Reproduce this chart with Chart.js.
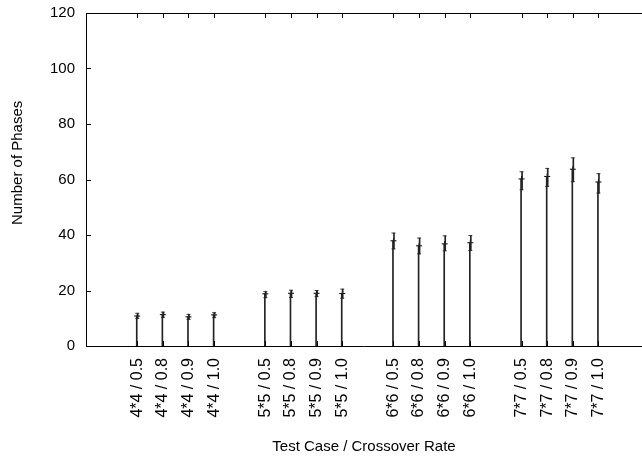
<!DOCTYPE html>
<html>
<head>
<meta charset="utf-8">
<script src="https://cdn.jsdelivr.net/npm/chart.js@4/dist/chart.umd.min.js"></script>
<style>
  html, body { margin: 0; padding: 0; background: #fff; overflow: hidden; }
  canvas { display: block; }
</style>
</head>
<body>
<canvas id="chart" width="642" height="472"></canvas>
<script>
// x positions of each test run (gnuplot style gaps between groups)
const positions = [2, 3, 4, 5, 7, 8, 9, 10, 12, 13, 14, 15, 17, 18, 19, 20];
const labels = [
    '4*4 / 0.5', '4*4 / 0.8', '4*4 / 0.9', '4*4 / 1.0',
    '5*5 / 0.5', '5*5 / 0.8', '5*5 / 0.9', '5*5 / 1.0',
    '6*6 / 0.5', '6*6 / 0.8', '6*6 / 0.9', '6*6 / 1.0',
    '7*7 / 0.5', '7*7 / 0.8', '7*7 / 0.9', '7*7 / 1.0'
];
const meanPhases = [10.8, 11.3, 10.5, 11.2, 18.8, 19.0, 19.0, 18.9, 37.9, 36.1, 36.8, 37.2, 60.2, 61.1, 63.7, 59.1];
const lowPhases  = [9.9, 10.3, 9.6, 10.2, 17.4, 17.5, 17.8, 17.2, 35.0, 33.2, 34.3, 34.4, 56.3, 57.5, 59.2, 55.1];
const highPhases = [11.8, 12.2, 11.4, 12.0, 19.6, 20.1, 20.0, 20.5, 40.7, 38.9, 39.7, 39.8, 62.8, 64.0, 67.8, 62.1];
const yTicks = [0, 20, 40, 60, 80, 100, 120];
const yTitle = 'Number of Phases';
const xTitle = 'Test Case / Crossover Rate';

const FONT = 'Liberation Sans, Arial, Helvetica, sans-serif';

// inward tick marks, top border and the y label, like gnuplot
const frameTicks = {
    id: 'frameTicks',
    afterDraw(chart) {
        const ctx = chart.ctx;
        const area = chart.chartArea;
        const x = chart.scales.x;
        const y = chart.scales.y;
        ctx.save();
        ctx.strokeStyle = '#000';
        ctx.lineWidth = 1;
        ctx.beginPath();
        ctx.moveTo(area.left, area.top + 0.5);
        ctx.lineTo(chart.width, area.top + 0.5);
        positions.forEach(p => {
            const px = Math.round(x.getPixelForValue(p)) + 0.5;
            ctx.moveTo(px, area.bottom);
            ctx.lineTo(px, area.bottom - 5);
            ctx.moveTo(px, area.top);
            ctx.lineTo(px, area.top + 5);
        });
        yTicks.forEach(v => {
            const py = Math.round(y.getPixelForValue(v)) + 0.5;
            ctx.moveTo(area.left, py);
            ctx.lineTo(area.left + 5, py);
        });
        ctx.stroke();

        // y label sits a bit above the middle in the original
        ctx.translate(18, y.getPixelForValue(66));
        ctx.rotate(-Math.PI / 2);
        ctx.fillStyle = '#000';
        ctx.font = '15px ' + FONT;
        ctx.textAlign = 'center';
        ctx.textBaseline = 'middle';
        ctx.fillText(yTitle, 0, 0);
        ctx.restore();
    }
};

const ctx = document.getElementById('chart').getContext('2d');
new Chart(ctx, {
    data: {
        datasets: [
            {
                type: 'bar',
                data: positions.map((p, i) => ({ x: p, y: [0, meanPhases[i]] })),
                backgroundColor: '#222',
                barThickness: 1,
                borderWidth: 0
            },
            {
                type: 'bar',
                data: positions.map((p, i) => ({ x: p, y: [lowPhases[i], highPhases[i]] })),
                backgroundColor: '#222',
                barThickness: 1,
                borderWidth: 0
            },
            {
                type: 'scatter',
                data: positions.flatMap((p, i) => [{ x: p, y: lowPhases[i] }, { x: p, y: highPhases[i] }]),
                pointStyle: 'line',
                pointRadius: 2,
                borderColor: '#444',
                borderWidth: 1
            },
            {
                type: 'scatter',
                data: positions.map((p, i) => ({ x: p, y: meanPhases[i] })),
                pointStyle: 'cross',
                pointRadius: 3,
                borderColor: '#000',
                borderWidth: 1
            }
        ]
    },
    plugins: [frameTicks],
    options: {
        responsive: false,
        animation: false,
        layout: { autoPadding: false, padding: { top: 13, right: 0, left: 0, bottom: 0 } },
        plugins: {
            legend: { display: false },
            tooltip: { enabled: false }
        },
        scales: {
            x: {
                type: 'linear',
                position: 'bottom',
                min: 0,
                max: 21.7,
                offset: false,
                grid: { display: false, drawTicks: false },
                border: { display: true, color: '#000', width: 1 },
                afterBuildTicks: s => { s.ticks = positions.map(v => ({ value: v })); },
                afterFit: s => {
                    s.height = 126;
                    s.paddingLeft = 0;
                    s.paddingRight = 0;
                },
                ticks: {
                    autoSkip: false,
                    minRotation: 90,
                    maxRotation: 90,
                    padding: 12,
                    color: '#000',
                    font: { family: FONT, size: 16 },
                    callback: (v, i) => labels[i]
                },
                title: {
                    display: true,
                    text: xTitle,
                    color: '#000',
                    font: { family: FONT, size: 15 },
                    padding: { top: 0, bottom: 16 }
                }
            },
            y: {
                min: 0,
                max: 120,
                grid: { display: false, drawTicks: false },
                border: { display: true, color: '#000', width: 1 },
                afterFit: s => {
                    s.width = 86;
                    s.paddingTop = 0;
                    s.paddingBottom = 0;
                },
                ticks: {
                    stepSize: 20,
                    padding: 11,
                    color: '#000',
                    font: { family: FONT, size: 15 }
                }
            }
        }
    }
});
</script>
</body>
</html>
